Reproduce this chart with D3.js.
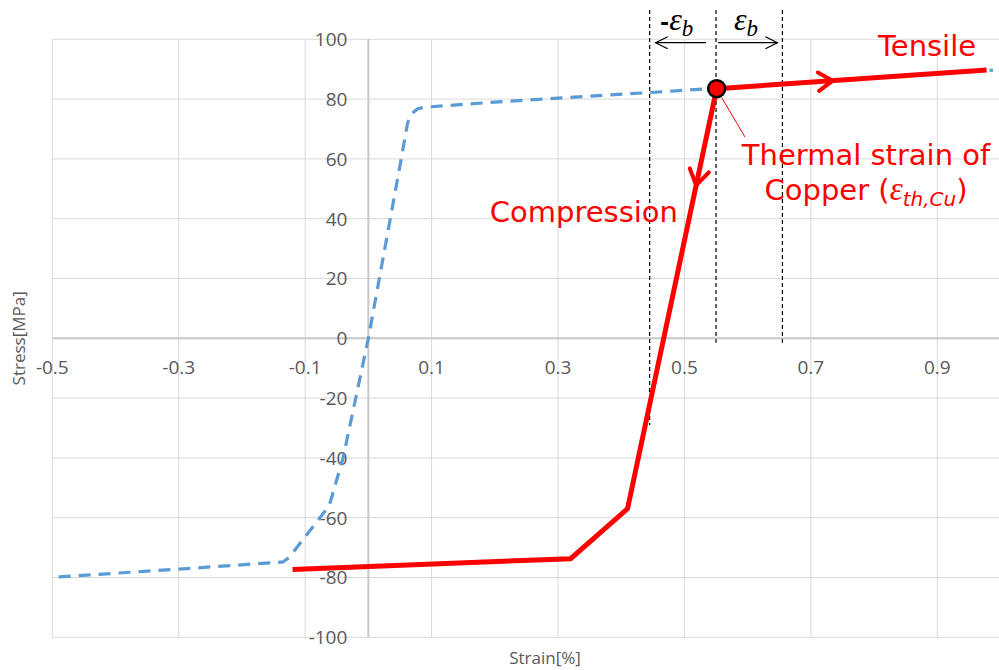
<!DOCTYPE html>
<html>
<head>
<meta charset="utf-8">
<script src="https://cdn.jsdelivr.net/npm/d3@7"></script>
<style>
  body { margin: 0; background: #fff; }
  svg { display: block; font-family: "Open Sans", sans-serif; }
</style>
</head>
<body>
<div id="chart"></div>
<script>
// Blue dashed curve (stress-strain of copper)
var blueStrain = [-0.49, -0.3, -0.135, -0.125, -0.062, -0.04, 0, 0.052, 0.062, 0.068, 0.078, 0.09, 0.2, 0.445, 0.55, 0.988];
var blueStress = [-79.8, -77.2, -74.8, -73.2, -56, -40, 0, 60, 72, 75, 76.8, 77.3, 79, 82.2, 83.6, 89.7];

// Red solid path: compression branch and tensile branch
var compStrain = [0.551, 0.41, 0.32, -0.12];
var compStress = [83.5, -57, -73.7, -77.3];
var tensStrain = [0.551, 0.978];
var tensStress = [83.5, 89.7];

// thermal strain point and the +/- eps_b guides
var thermalPoint = [0.551, 83.5];
var guideStrain = [0.445, 0.55, 0.655];
var guideBottom = [-29, -1.5, -1.5];

var xTicks = [-0.5, -0.3, -0.1, 0.1, 0.3, 0.5, 0.7, 0.9];
var yTicks = [100, 80, 60, 40, 20, 0, -20, -40, -60, -80, -100];

var svgWidth = 999;
var svgHeight = 670;

var svg = d3.select("#chart")
  .append("svg")
  .attr("width", svgWidth)
  .attr("height", svgHeight);

var x = d3.scaleLinear().domain([-0.5, 1.0]).range([52.3, 1000.5]);
var y = d3.scaleLinear().domain([-100, 100]).range([637.3, 39.3]);

// gridlines
var grid = svg.append("g");
grid.selectAll(".vgrid")
  .data(xTicks)
  .enter()
  .append("line")
  .attr("x1", d => x(d)).attr("x2", d => x(d))
  .attr("y1", y(100)).attr("y2", y(-100))
  .attr("stroke", "#d9d9d9")
  .attr("stroke-width", 1);
grid.selectAll(".hgrid")
  .data(yTicks)
  .enter()
  .append("line")
  .attr("x1", x(-0.5)).attr("x2", x(1.0))
  .attr("y1", d => y(d)).attr("y2", d => y(d))
  .attr("stroke", "#d9d9d9")
  .attr("stroke-width", 1);

// axes through zero
svg.append("line")
  .attr("x1", x(-0.5)).attr("x2", x(1.0))
  .attr("y1", y(0)).attr("y2", y(0))
  .attr("stroke", "#c8c8c8").attr("stroke-width", 2);
svg.append("line")
  .attr("x1", x(0)).attr("x2", x(0))
  .attr("y1", y(100)).attr("y2", y(-100))
  .attr("stroke", "#c8c8c8").attr("stroke-width", 2);

// tick labels
svg.selectAll(".xlab")
  .data(xTicks)
  .enter()
  .append("text")
  .attr("x", d => x(d))
  .attr("y", y(0) + 36)
  .attr("text-anchor", "middle")
  .attr("font-size", "19px")
  .attr("fill", "#595959")
  .text(d => d3.format(".1f")(d).replace("−", "-"));

svg.selectAll(".ylab")
  .data(yTicks)
  .enter()
  .append("text")
  .attr("x", x(0) - 21)
  .attr("y", d => y(d))
  .attr("dy", "0.36em")
  .attr("text-anchor", "end")
  .attr("font-size", "19px")
  .attr("fill", "#595959")
  .text(d => d);

// axis titles
svg.append("text")
  .attr("transform", `translate(25, ${y(0)}) rotate(-90)`)
  .attr("text-anchor", "middle")
  .attr("font-size", "17px")
  .attr("fill", "#595959")
  .text("Stress[MPa]");
svg.append("text")
  .attr("x", 545)
  .attr("y", 664)
  .attr("text-anchor", "middle")
  .attr("font-size", "17px")
  .attr("fill", "#595959")
  .text("Strain[%]");

// eps_b guides
svg.selectAll(".guide")
  .data(guideStrain)
  .enter()
  .append("line")
  .attr("x1", d => x(d)).attr("x2", d => x(d))
  .attr("y1", 10)
  .attr("y2", (d, i) => y(guideBottom[i]))
  .attr("stroke", "#000")
  .attr("stroke-width", 1.2)
  .attr("stroke-dasharray", "4,3");

var line = d3.line().x(d => x(d[0])).y(d => y(d[1]));

// blue curve
svg.append("path")
  .datum(blueStrain.map((d, i) => [d, blueStress[i]]))
  .attr("d", line)
  .attr("fill", "none")
  .attr("stroke", "#5b9bd5")
  .attr("stroke-width", 3.2)
  .attr("stroke-dasharray", "12,8");

// red paths
svg.append("path")
  .datum(compStrain.map((d, i) => [d, compStress[i]]))
  .attr("d", line)
  .attr("fill", "none")
  .attr("stroke", "#ff0000")
  .attr("stroke-width", 5)
  .attr("stroke-linejoin", "miter");
svg.append("path")
  .datum(tensStrain.map((d, i) => [d, tensStress[i]]))
  .attr("d", line)
  .attr("fill", "none")
  .attr("stroke", "#ff0000")
  .attr("stroke-width", 5);

// open chevron arrowheads sitting on the red paths
function chevron(p0, p1, frac, len, color, width) {
  var ax = x(p0[0]), ay = y(p0[1]);
  var bx = x(p1[0]), by = y(p1[1]);
  var tx = ax + (bx - ax) * frac, ty = ay + (by - ay) * frac;
  var ang = Math.atan2(by - ay, bx - ax);
  var spread = Math.PI / 5.5;
  var pts = [
    [tx - len * Math.cos(ang - spread), ty - len * Math.sin(ang - spread)],
    [tx, ty],
    [tx - len * Math.cos(ang + spread), ty - len * Math.sin(ang + spread)]
  ];
  svg.append("path")
    .attr("d", d3.line()(pts))
    .attr("fill", "none")
    .attr("stroke", color)
    .attr("stroke-width", width)
    .attr("stroke-linecap", "round");
}
chevron([tensStrain[0], tensStress[0]], [tensStrain[1], tensStress[1]], 0.43, 17, "#ff0000", 4);
chevron([compStrain[0], compStress[0]], [compStrain[1], compStress[1]], 0.23, 18, "#ff0000", 4);

// leader line to label
svg.append("line")
  .attr("x1", x(thermalPoint[0]) + 5).attr("y1", y(thermalPoint[1]) + 9)
  .attr("x2", 745).attr("y2", 137)
  .attr("stroke", "#ff0000").attr("stroke-width", 1);

// thermal strain point
svg.append("circle")
  .attr("cx", x(thermalPoint[0]))
  .attr("cy", y(thermalPoint[1]))
  .attr("r", 8.5)
  .attr("fill", "#ff0000")
  .attr("stroke", "#000")
  .attr("stroke-width", 2.5);

// +/- eps_b arrows
function hArrow(x1, x2, yy) {
  var dir = x2 > x1 ? 1 : -1;
  svg.append("line")
    .attr("x1", x1).attr("x2", x2).attr("y1", yy).attr("y2", yy)
    .attr("stroke", "#000").attr("stroke-width", 1.2);
  svg.append("path")
    .attr("d", d3.line()([[x2 - dir * 12, yy - 6], [x2, yy], [x2 - dir * 12, yy + 6]]))
    .attr("fill", "none").attr("stroke", "#000").attr("stroke-width", 1.2);
}
hArrow(x(guideStrain[1]) - 10, x(guideStrain[0]) + 6, 42.7);
hArrow(x(guideStrain[1]) + 2, x(guideStrain[2]) - 5, 42.7);

var epsMinus = svg.append("text")
  .attr("x", 660).attr("y", 30)
  .attr("fill", "#000");
epsMinus.append("tspan")
  .attr("font-size", "22px").attr("font-weight", "bold")
  .attr("font-family", "DejaVu Sans")
  .text("-");
epsMinus.append("tspan")
  .attr("font-size", "32px").attr("font-style", "italic")
  .attr("font-family", "Liberation Serif")
  .text("ε");
epsMinus.append("tspan")
  .attr("font-size", "23px").attr("font-style", "italic")
  .attr("font-family", "Liberation Serif")
  .attr("dy", 6)
  .text("b");

var epsPlus = svg.append("text")
  .attr("x", 734).attr("y", 30)
  .attr("fill", "#000");
epsPlus.append("tspan")
  .attr("font-size", "32px").attr("font-style", "italic")
  .attr("font-family", "Liberation Serif")
  .text("ε");
epsPlus.append("tspan")
  .attr("font-size", "23px").attr("font-style", "italic")
  .attr("font-family", "Liberation Serif")
  .attr("dy", 6)
  .text("b");

// red annotations
var ann = svg.append("g")
  .attr("fill", "#ff0000")
  .attr("font-family", "DejaVu Sans")
  .attr("font-size", "29px");
ann.append("text").attr("x", 878).attr("y", 56).text("Tensile");
ann.append("text").attr("x", 678).attr("y", 222).attr("text-anchor", "end").text("Compression");
ann.append("text").attr("x", 866).attr("y", 165).attr("text-anchor", "middle").text("Thermal strain of");
var cu = ann.append("text").attr("x", 866).attr("y", 200).attr("text-anchor", "middle");
cu.append("tspan").text("Copper (");
cu.append("tspan").attr("font-style", "italic").attr("font-family", "Liberation Serif").attr("font-size", "33px").text("ε");
cu.append("tspan").attr("font-style", "italic").attr("font-size", "20px").attr("dy", 6).text("th,Cu");
cu.append("tspan").attr("dy", -6).text(")");
</script>
</body>
</html>
